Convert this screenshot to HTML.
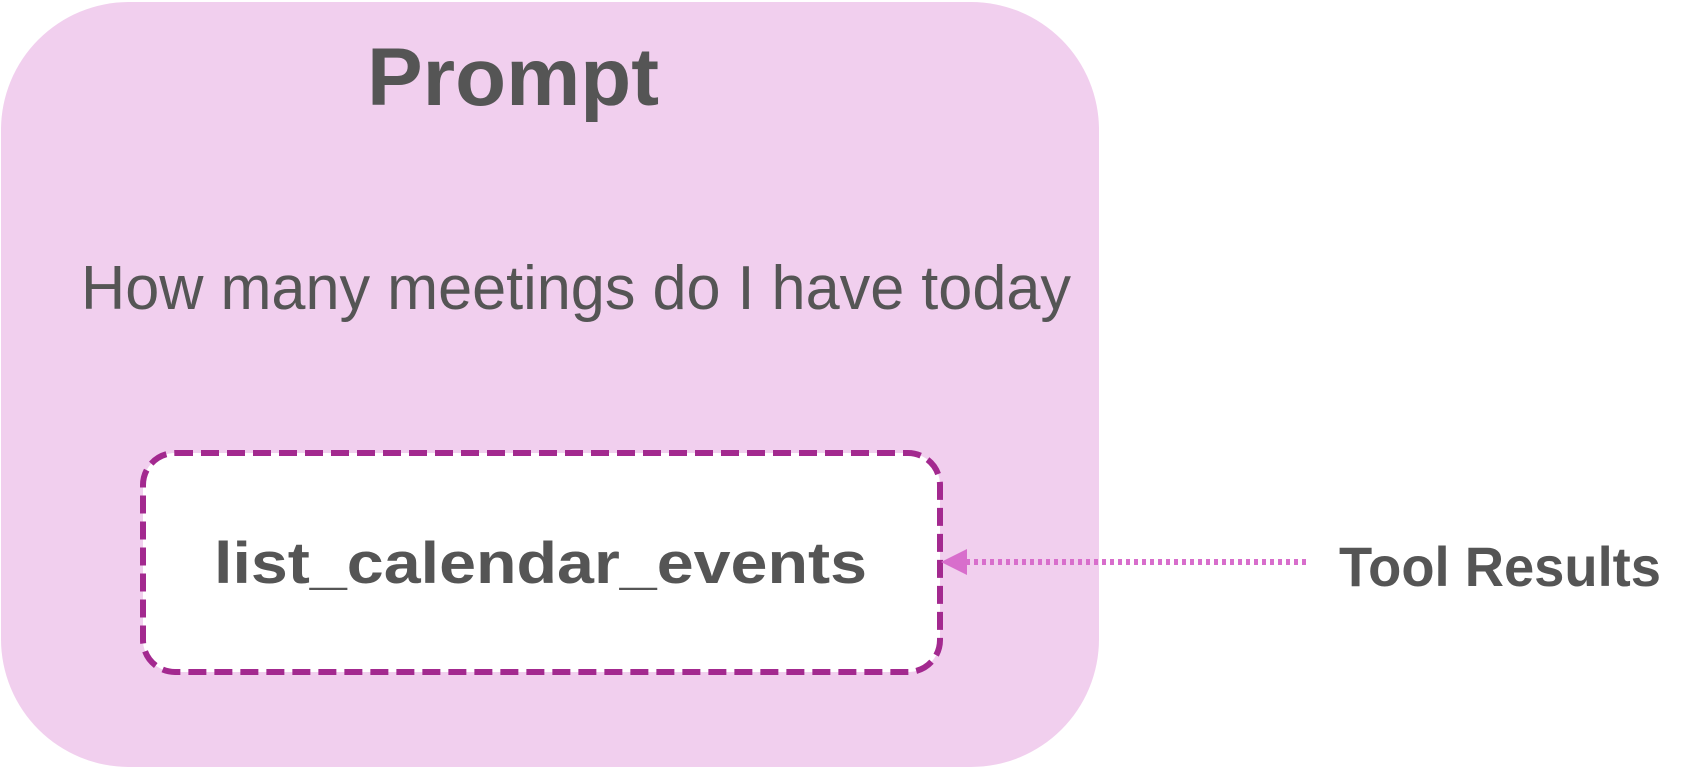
<!DOCTYPE html>
<html><head><meta charset="utf-8"><style>html,body{margin:0;padding:0;background:#fff;width:1700px;height:770px;overflow:hidden}</style></head>
<body>
<svg width="1700" height="770" viewBox="0 0 1700 770" xmlns="http://www.w3.org/2000/svg">
<rect x="1" y="2" width="1098" height="765" rx="128" ry="128" fill="#f1cfee"/>
<text x="513" y="105" text-anchor="middle" font-family="Liberation Sans, sans-serif" font-weight="bold" font-size="82" fill="#555" textLength="292" lengthAdjust="spacingAndGlyphs">Prompt</text>
<text x="81" y="309" font-family="Liberation Sans, sans-serif" font-size="62" fill="#555" textLength="990" lengthAdjust="spacingAndGlyphs">How many meetings do I have today</text>
<rect x="143" y="453" width="797" height="219" rx="32" ry="32" fill="#fff" stroke="#a3298f" stroke-width="6" stroke-dasharray="18 8"/>
<text x="214" y="583" font-family="Liberation Sans, sans-serif" font-weight="bold" font-size="58" fill="#555" textLength="653" lengthAdjust="spacingAndGlyphs">list_calendar_events</text>
<line x1="1306" y1="562" x2="964" y2="562" stroke="#d86ecc" stroke-width="6" stroke-dasharray="4 4"/>
<polygon points="941,562 967,549 967,575" fill="#d86ecc"/>
<text x="1339" y="586" font-family="Liberation Sans, sans-serif" font-weight="bold" font-size="56" fill="#555" textLength="322" lengthAdjust="spacingAndGlyphs">Tool Results</text>
</svg>
</body></html>
